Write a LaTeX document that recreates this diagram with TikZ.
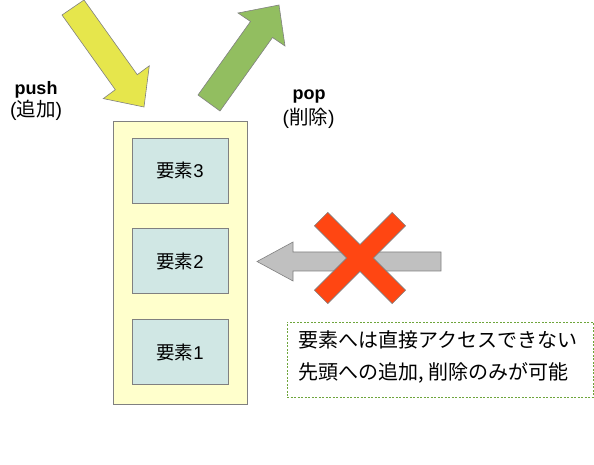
\documentclass[tikz,border=0pt]{standalone}
\usepackage{fontspec}
\setmainfont{Liberation Sans}
\newfontfamily\cjk{Noto Sans CJK JP}
\definecolor{edge}{RGB}{128,128,128}
\definecolor{stackfill}{RGB}{255,255,204}
\definecolor{itemfill}{RGB}{208,231,228}
\definecolor{pushcol}{RGB}{230,230,76}
\definecolor{popcol}{RGB}{146,190,96}
\definecolor{grayarrow}{RGB}{192,192,192}
\definecolor{crosscol}{RGB}{255,70,18}
\definecolor{notegreen}{RGB}{110,165,60}
\begin{document}
\begin{tikzpicture}[x=1bp,y=-1bp,
  stackbox/.style={draw=edge,line width=0.8bp,fill=stackfill,minimum width=134bp,minimum height=283bp,inner sep=0pt},
  itembox/.style={draw=edge,line width=0.8bp,fill=itemfill,minimum width=96bp,minimum height=65bp,inner sep=0pt,font=\fontsize{18.5bp}{22bp}\selectfont},
  blockarrow/.style={draw=edge,line width=0.6bp,line join=miter},
  oplbl/.style={inner sep=0pt,font=\fontsize{18bp}{22bp}\selectfont\bfseries},
  cjklbl/.style={inner sep=0pt,font=\fontsize{19.5bp}{23bp}\selectfont},
  notebox/.style={draw=notegreen,line width=0.8bp,dash pattern=on 2bp off 1.5bp,minimum width=306bp,minimum height=75bp,inner sep=0pt},
  notetext/.style={anchor=west,inner sep=0pt,font=\fontsize{20bp}{24bp}\selectfont\cjk}
]
\useasboundingbox (0,0) rectangle (594,465);
% stack
\node[stackbox] (stack) at (180,262.5) {};
\node[itembox] (e3) at (180,170.5) {{\cjk 要素}3};
\node[itembox] (e2) at (180,261) {{\cjk 要素}2};
\node[itembox] (e1) at (180,352) {{\cjk 要素}1};
% push arrow
\fill[pushcol,blockarrow] (62,15) -- (84,0) -- (137.3,74.7) -- (149.3,65.8) -- (144,107) -- (103.3,98.6) -- (115.3,89.7) -- cycle;
% pop arrow
\fill[popcol,blockarrow] (198,95) -- (250.5,21.5) -- (238,13) -- (279,5) -- (285,46) -- (272.5,37.5) -- (220,111) -- cycle;
% labels
\node[oplbl] (pushlbl) at (36,90) {push};
\node[cjklbl] (pushjp) at (36,110.5) {({\cjk 追加})};
\node[oplbl] (poplbl) at (309,97) {pop};
\node[cjklbl] (popjp) at (308.5,118.5) {({\cjk 削除})};
% gray arrow
\fill[grayarrow,blockarrow] (441,252) -- (293,252) -- (293,242) -- (257,261.5) -- (293,281) -- (293,271) -- (441,271) -- cycle;
% red cross
\fill[crosscol,blockarrow] (327.8,212.4) -- (360,244.6) -- (392.2,212.4) -- (405.6,225.8) -- (373.4,258) -- (405.6,290.2) -- (392.2,303.6) -- (360,271.4) -- (327.8,303.6) -- (314.4,290.2) -- (346.6,258) -- (314.4,225.8) -- cycle;
% note
\node[notebox] (note) at (440,359.5) {};
\node[notetext] (n1) at (298,340) {要素へは直接アクセスできない};
\node[notetext] (n2) at (298,373) {先頭への追加, 削除のみが可能};
\end{tikzpicture}
\end{document}
